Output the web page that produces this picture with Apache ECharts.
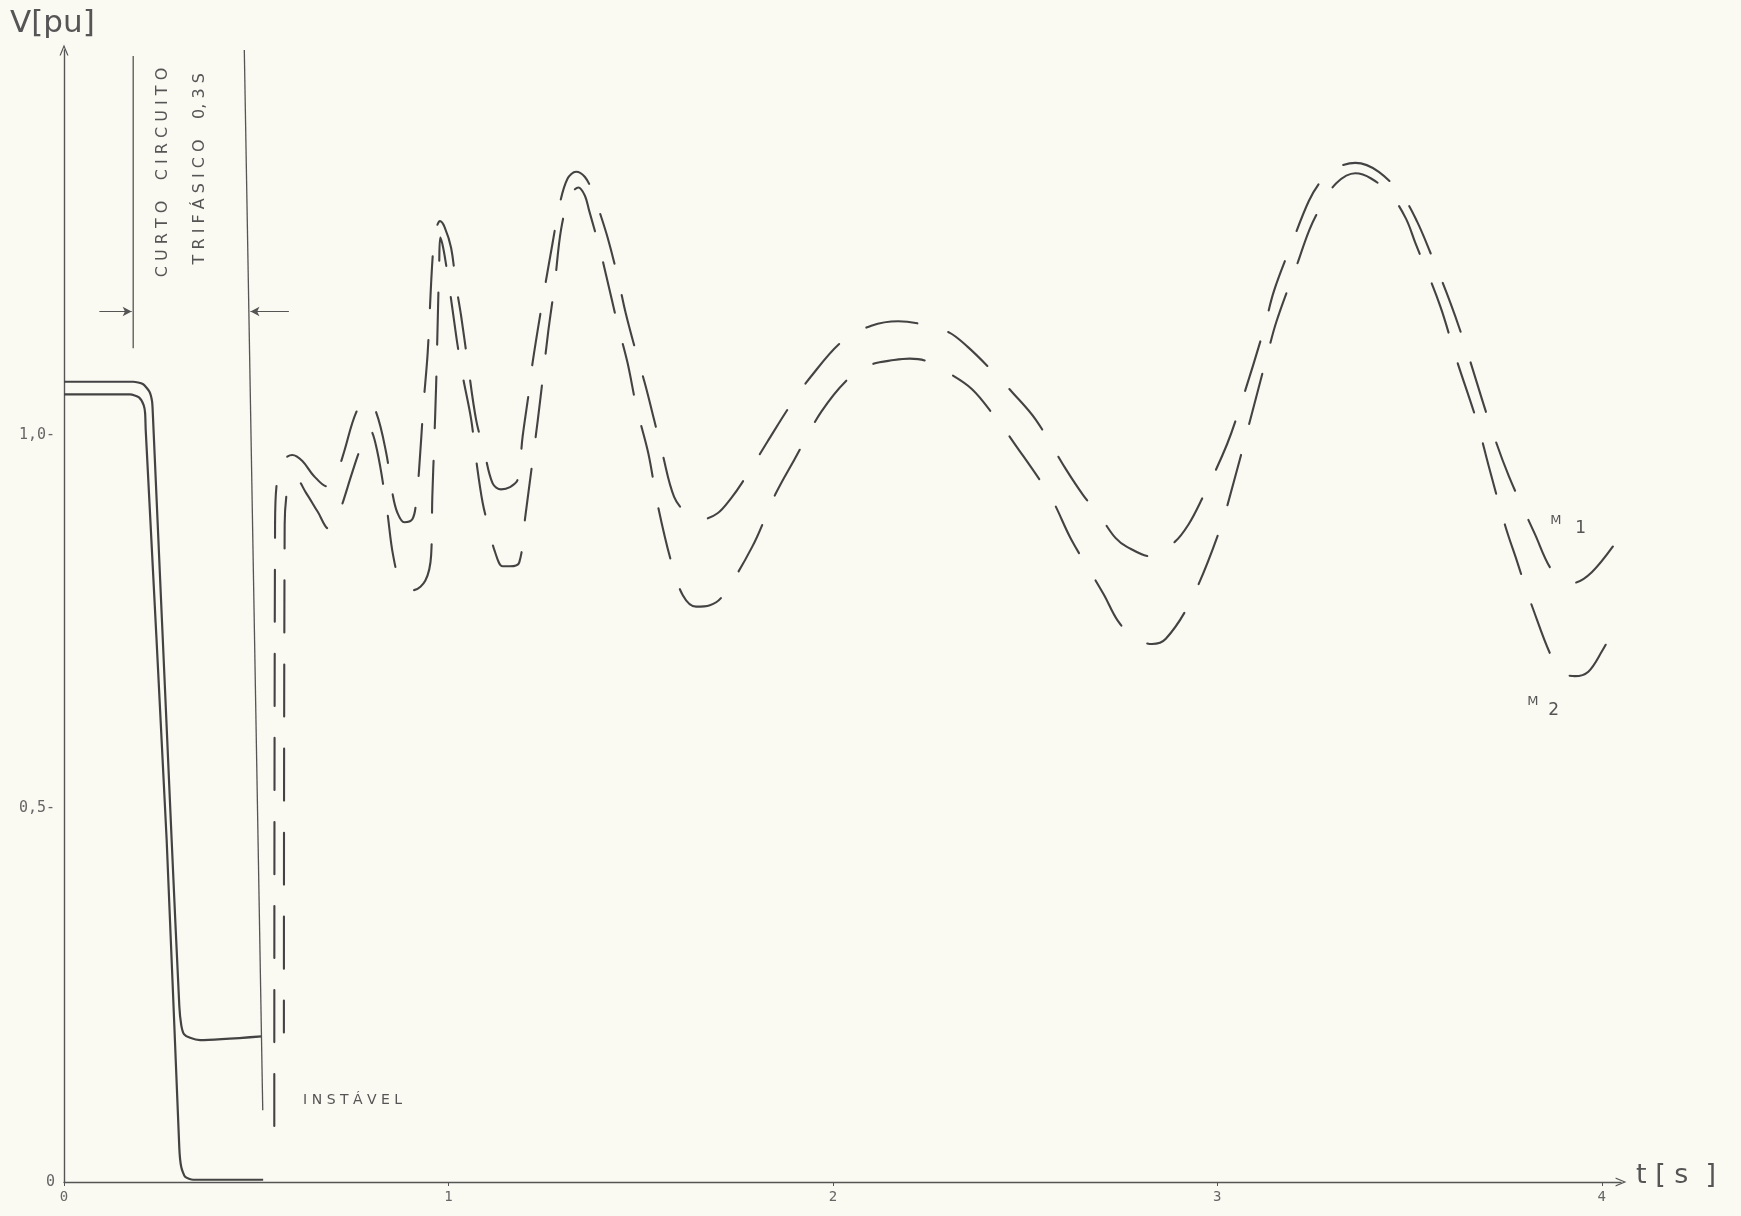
<!DOCTYPE html>
<html><head><meta charset="utf-8">
<script src="https://cdn.jsdelivr.net/npm/echarts@6/dist/echarts.min.js"></script>
<style>html,body{margin:0;padding:0;background:#faf9f2}#c{width:1741px;height:1216px}</style>
</head><body><div id="c"></div>
<script>
// ---- axis ticks ----
const xTicks = [0, 1, 2, 3, 4];
const xTickLabels = ['0', '1', '2', '3', '4'];
const yTicks = [0, 0.5, 1.0];
const yTickLabels = ['0', '0,5-', '1,0-'];

// ---- pre-fault / fault period (solid double trace) [t (s), V (pu)] ----
const faultTraceOuter = [[0,1.071],[0.18,1.071],[0.205,1.068],[0.222,1.058],[0.229,1.045],[0.231,1.029],[0.28,0.458],[0.300,0.235],[0.305,0.21],[0.312,0.198],[0.328,0.193],[0.354,0.19],[0.514,0.195]];
const faultTraceInner = [[0,1.054],[0.172,1.054],[0.195,1.05],[0.207,1.04],[0.211,1.029],[0.2125,1.007],[0.267,0.458],[0.300,0.045],[0.305,0.02],[0.315,0.007],[0.336,0.003],[0.518,0.003]];

// ---- post-fault oscillations (dashed) ----
const m1Post = [[0.547,0.075],[0.549,0.88],[0.556,0.945],[0.575,0.968],[0.594,0.973],[0.62,0.965],[0.65,0.945],[0.685,0.931],[0.70,0.935],[0.715,0.955],[0.729,0.978],[0.76,1.03],[0.787,1.047],[0.812,1.03],[0.838,0.976],[0.855,0.92],[0.867,0.896],[0.885,0.883],[0.906,0.887],[0.916,0.91],[0.924,0.956],[0.935,1.04],[0.946,1.11],[0.959,1.239],[0.968,1.275],[0.978,1.286],[0.99,1.278],[1.007,1.25],[1.02,1.20],[1.033,1.159],[1.05,1.097],[1.072,1.02],[1.093,0.978],[1.115,0.935],[1.137,0.927],[1.16,0.93],[1.18,0.94],[1.193,0.998],[1.21,1.06],[1.219,1.097],[1.245,1.18],[1.271,1.257],[1.29,1.31],[1.31,1.343],[1.332,1.352],[1.355,1.345],[1.375,1.325],[1.392,1.30],[1.414,1.264],[1.44,1.212],[1.461,1.163],[1.492,1.103],[1.513,1.065],[1.535,1.02],[1.557,0.974],[1.587,0.917],[1.62,0.895],[1.66,0.887],[1.70,0.895],[1.735,0.915],[1.764,0.936],[1.83,0.991],[1.89,1.04],[1.943,1.078],[2.024,1.125],[2.10,1.146],[2.17,1.152],[2.24,1.147],[2.302,1.137],[2.35,1.118],[2.406,1.09],[2.47,1.055],[2.528,1.02],[2.606,0.954],[2.65,0.92],[2.70,0.887],[2.735,0.862],[2.765,0.85],[2.83,0.837],[2.89,0.857],[2.925,0.88],[2.957,0.911],[3.025,0.987],[3.068,1.052],[3.121,1.141],[3.147,1.192],[3.193,1.255],[3.238,1.313],[3.27,1.34],[3.30,1.355],[3.359,1.364],[3.42,1.352],[3.485,1.317],[3.52,1.285],[3.554,1.244],[3.606,1.177],[3.645,1.119],[3.71,1.013],[3.758,0.945],[3.827,0.866],[3.866,0.822],[3.90,0.806],[3.926,0.802],[3.974,0.816],[4.038,0.857]];
const m2Post = [[0.572,0.20],[0.574,0.88],[0.58,0.925],[0.59,0.942],[0.60,0.943],[0.63,0.922],[0.66,0.897],[0.69,0.874],[0.705,0.88],[0.723,0.906],[0.75,0.95],[0.77,0.98],[0.795,1.007],[0.814,0.98],[0.84,0.90],[0.856,0.839],[0.875,0.805],[0.908,0.792],[0.94,0.805],[0.955,0.839],[0.958,0.916],[0.963,0.989],[0.968,1.067],[0.972,1.15],[0.976,1.23],[0.979,1.264],[0.99,1.24],[1.01,1.17],[1.024,1.119],[1.037,1.079],[1.059,1.021],[1.072,0.967],[1.089,0.909],[1.106,0.873],[1.12,0.845],[1.141,0.824],[1.16,0.824],[1.184,0.829],[1.2,0.891],[1.217,0.958],[1.232,1.018],[1.245,1.074],[1.26,1.14],[1.276,1.2],[1.293,1.275],[1.315,1.318],[1.338,1.331],[1.355,1.32],[1.366,1.30],[1.392,1.252],[1.41,1.214],[1.44,1.148],[1.466,1.096],[1.49,1.035],[1.52,0.975],[1.544,0.907],[1.58,0.829],[1.61,0.785],[1.644,0.77],[1.68,0.772],[1.711,0.783],[1.79,0.85],[1.85,0.92],[1.90,0.967],[1.97,1.031],[2.042,1.076],[2.10,1.094],[2.159,1.10],[2.20,1.102],[2.241,1.099],[2.30,1.083],[2.362,1.061],[2.42,1.025],[2.47,0.99],[2.567,0.916],[2.62,0.86],[2.705,0.786],[2.74,0.752],[2.78,0.73],[2.83,0.72],[2.866,0.727],[2.93,0.777],[3.005,0.871],[3.048,0.947],[3.082,1.013],[3.128,1.103],[3.154,1.152],[3.206,1.226],[3.24,1.275],[3.27,1.306],[3.31,1.337],[3.359,1.35],[3.40,1.343],[3.45,1.322],[3.49,1.29],[3.515,1.257],[3.58,1.172],[3.622,1.101],[3.675,1.018],[3.706,0.958],[3.749,0.878],[3.78,0.83],[3.814,0.777],[3.887,0.686],[3.93,0.677],[3.965,0.683],[4.0,0.71],[4.043,0.75]];

// ---- fault interval markers ----
const faultStartLine = [[0.18,1.507],[0.18,1.116]];
const faultEndLine = [[0.469,1.515],[0.517,0.096]];
const arrowLeft = [[0.092,1.165],[0.176,1.165]];
const arrowRight = [[0.585,1.165],[0.485,1.165]];

// ---- text anchors ----
const labelCurto = {text: 'C U R T O    C I R C U I T O', at: [0.2575, 1.351]};
const labelTrif = {text: 'T R I F Á S I C O    0, 3 S', at: [0.354, 1.356]};
const labelInst = {text: 'I N S T Á V E L', at: [0.622, 0.109]};
const labelM1 = {name: 'M', sub: '1', at: [3.866, 0.885], subAt: [3.931, 0.875]};
const labelM2 = {name: 'M', sub: '2', at: [3.806, 0.643], subAt: [3.861, 0.631]};

const INK = '#434343';
const AX = '#555';
const chart = echarts.init(document.getElementById('c'), null, {renderer: 'canvas'});

const chevron = 'path://M0,12 L5,0 L10,12 L8.6,12 L5,3.2 L1.4,12 Z';

const option = {
  backgroundColor: '#faf9f2',
  animation: false,
  grid: {left: 64, right: 120, top: 50, bottom: 34, containLabel: false},
  xAxis: {
    type: 'value', min: 0, max: 4.05, interval: 1,
    axisLine: {show: true, symbol: ['none', chevron], symbolSize: [9, 13], lineStyle: {color: AX, width: 1.4}},
    axisTick: {show: true, length: 4, lineStyle: {color: AX}},
    splitLine: {show: false},
    axisLabel: {
      margin: 8, color: '#666', fontFamily: 'DejaVu Sans Mono', fontSize: 14,
      showMaxLabel: false,
      formatter: v => { const i = xTicks.findIndex(t => Math.abs(t - v) < 1e-6); return i >= 0 ? xTickLabels[i] : ''; }
    }
  },
  yAxis: {
    type: 'value', min: 0, max: 1.515, interval: 0.5,
    axisLine: {show: true, symbol: ['none', chevron], symbolSize: [9, 13], lineStyle: {color: AX, width: 1.4}},
    axisTick: {show: false},
    splitLine: {show: false},
    axisLabel: {
      margin: 9, color: '#666', fontFamily: 'DejaVu Sans Mono', fontSize: 15,
      showMaxLabel: false,
      formatter: v => { const i = yTicks.findIndex(t => Math.abs(t - v) < 1e-6); return i >= 0 ? yTickLabels[i] : ''; }
    }
  },
  series: [
    {type: 'line', name: 'faultOuter', data: faultTraceOuter, showSymbol: false, smooth: 0.2, silent: true,
     lineStyle: {color: INK, width: 2.2}},
    {type: 'line', name: 'faultInner', data: faultTraceInner, showSymbol: false, smooth: 0.2, silent: true,
     lineStyle: {color: INK, width: 2.2}},
    {type: 'line', name: 'M1', data: m1Post, showSymbol: false, smooth: 0.35, silent: true,
     lineStyle: {color: INK, width: 2.1, type: [52, 32], cap: 'round'}},
    {type: 'line', name: 'M2', data: m2Post, showSymbol: false, smooth: 0.35, silent: true,
     lineStyle: {color: INK, width: 2.1, type: [52, 32], dashOffset: 20, cap: 'round'}},
    {type: 'line', name: 'faultStart', data: faultStartLine, showSymbol: false, silent: true,
     lineStyle: {color: AX, width: 1.3}},
    {type: 'line', name: 'faultEnd', data: faultEndLine, showSymbol: false, silent: true,
     lineStyle: {color: AX, width: 1.3},
     markLine: {
       silent: true, symbol: ['none', 'arrow'], symbolSize: [7, 9],
       label: {show: false},
       lineStyle: {color: AX, width: 1.2, type: 'solid'},
       data: [
         [{coord: arrowLeft[0]}, {coord: arrowLeft[1]}],
         [{coord: arrowRight[0]}, {coord: arrowRight[1]}]
       ]
     }}
  ]
};
chart.setOption(option);

function px(p) { return chart.convertToPixel({gridIndex: 0}, p); }
const TXT = '#555';
const g = [];
function addText(text, p, font, extra) {
  g.push(Object.assign({type: 'text', x: p[0], y: p[1], silent: true,
    style: Object.assign({text: text, font: font, fill: TXT,
      textAlign: 'center', textVerticalAlign: 'middle', align: 'center', verticalAlign: 'middle'}, (extra && extra.style) || {})},
    extra ? {rotation: extra.rotation || 0} : {}));
}
addText(labelCurto.text, px(labelCurto.at), '16px "DejaVu Sans"', {rotation: Math.PI / 2});
addText(labelTrif.text, px(labelTrif.at), '16px "DejaVu Sans"', {rotation: Math.PI / 2});
addText(labelInst.text, px(labelInst.at), '14px "DejaVu Sans"', {style: {textAlign: 'left', align: 'left'}});
addText(labelM1.name, px(labelM1.at), '13px "DejaVu Sans"', {style: {textAlign: 'left', align: 'left'}});
addText(labelM1.sub, px(labelM1.subAt), '17px "DejaVu Sans"', {style: {textAlign: 'left', align: 'left'}});
addText(labelM2.name, px(labelM2.at), '13px "DejaVu Sans"', {style: {textAlign: 'left', align: 'left'}});
addText(labelM2.sub, px(labelM2.subAt), '17px "DejaVu Sans"', {style: {textAlign: 'left', align: 'left'}});
// axis names
g.push({type: 'text', x: 10, y: 24, silent: true,
  style: {text: 'V[pu]', font: '31px "DejaVu Sans"', fill: TXT, textAlign: 'left', textVerticalAlign: 'middle', align: 'left', verticalAlign: 'middle'}});
g.push({type: 'text', x: 1636, y: 1176, silent: true,
  style: {text: 't [ s  ]', font: '27px "DejaVu Sans"', fill: TXT, textAlign: 'left', textVerticalAlign: 'middle', align: 'left', verticalAlign: 'middle'}});
chart.setOption({graphic: g});
</script>
</body></html>
